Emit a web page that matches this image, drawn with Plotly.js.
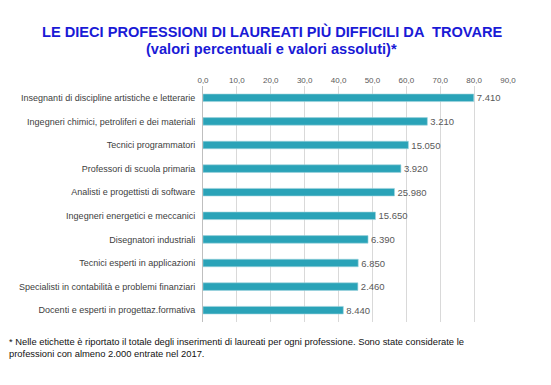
<!DOCTYPE html>
<html><head><meta charset="utf-8">
<script src="https://cdn.plot.ly/plotly-3.0.1.min.js"></script>
<style>html,body{margin:0;padding:0;background:#fff}#c{width:551px;height:385px}</style>
</head><body><div id="c"></div>
<script>
const categories = [
  "Insegnanti di discipline artistiche e letterarie",
  "Ingegneri chimici, petroliferi e dei materiali",
  "Tecnici programmatori",
  "Professori di scuola primaria",
  "Analisti e progettisti di software",
  "Ingegneri energetici e meccanici",
  "Disegnatori industriali",
  "Tecnici esperti in applicazioni",
  "Specialisti in contabilità e problemi finanziari",
  "Docenti e esperti in progettaz.formativa"
];
const percent = [79.9, 66.2, 60.6, 58.4, 56.5, 50.9, 48.7, 45.8, 45.7, 41.4];
const totals = ["7.410", "3.210", "15.050", "3.920", "25.980", "15.650", "6.390", "6.850", "2.460", "8.440"];
const tickValues = [0, 10, 20, 30, 40, 50, 60, 70, 80, 90];

const W = 551, H = 385, M = {l: 203, r: 43, t: 86, b: 63};
const pw = W - M.l - M.r, ph = H - M.t - M.b;
const px = x => (x - M.l) / pw;
const py = y => (H - M.b - y) / ph;

const trace = {
  type: 'bar', orientation: 'h',
  x: percent, y: categories,
  text: totals, textposition: 'outside', constraintext: 'none', cliponaxis: false,
  textfont: {family: 'Liberation Sans, Arial, sans-serif', size: 9.5, color: '#595959'},
  marker: {color: '#2aa3b8', line: {color: '#9fd3dd', width: 0.6}},
  hoverinfo: 'none'
};

const layout = {
  width: W, height: H,
  margin: M,
  paper_bgcolor: '#fff', plot_bgcolor: '#fff',
  separators: ',.',
  showlegend: false,
  bargap: 0.68,
  xaxis: {
    side: 'top', range: [0, 90], tickvals: tickValues, tickformat: '.1f',
    showgrid: true, gridcolor: '#d9d9d9', gridwidth: 1, zeroline: false,
    showline: false, ticks: '', automargin: false,
    tickfont: {family: 'Liberation Sans, Arial, sans-serif', size: 8, color: '#595959'}
  },
  yaxis: {
    autorange: 'reversed', showline: true, linecolor: '#bfbfbf', linewidth: 1,
    ticks: '', ticklabelstandoff: 5, automargin: false,
    tickfont: {family: 'Liberation Sans, Arial, sans-serif', size: 9, color: '#404040'}
  },
  annotations: [
    {text: 'LE DIECI PROFESSIONI DI LAUREATI PIÙ DIFFICILI DA  TROVARE',
     x: px(272), xanchor: 'center', y: py(32), yanchor: 'middle', showarrow: false,
     font: {family: 'Liberation Sans, Arial, sans-serif', size: 14.6, color: '#1a1ad6', weight: 'bold'}},
    {text: '(valori percentuali e valori assoluti)*', x: px(271), xanchor: 'center', y: py(49), yanchor: 'middle',
     showarrow: false,
     font: {family: 'Liberation Sans, Arial, sans-serif', size: 14.6, color: '#1a1ad6', weight: 'bold'}},
    {text: '* Nelle etichette è riportato il totale degli inserimenti di laureati per ogni professione. Sono state considerate le<br>professioni con almeno 2.000 entrate nel 2017.',
     x: px(7), xanchor: 'left', y: py(334), yanchor: 'top', align: 'left', showarrow: false,
     font: {family: 'Liberation Sans, Arial, sans-serif', size: 9.4, color: '#111'}}
  ]
};
layout.annotations.forEach(a => { a.yref = 'paper'; a.xref = 'paper'; });
Plotly.newPlot('c', [trace], layout, {staticPlot: true, displayModeBar: false});
</script></body></html>
